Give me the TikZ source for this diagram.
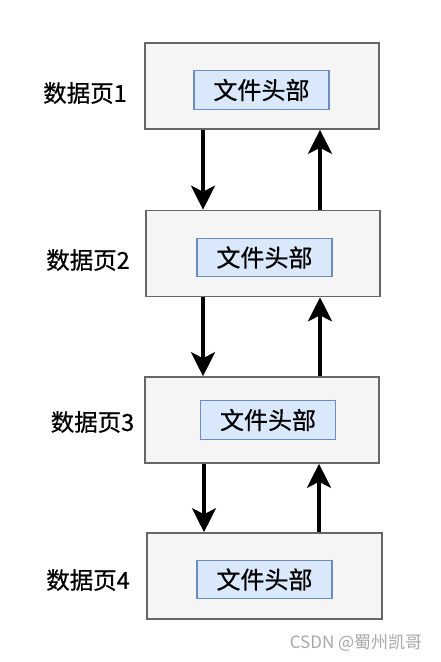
\documentclass[tikz,border=0pt]{standalone}
\usepackage{fontspec}
\setmainfont{Noto Sans CJK SC}[FakeBold=0.6]
\newfontfamily\wmfont{Noto Sans CJK SC}
\usetikzlibrary{arrows.meta}
\definecolor{outerfill}{HTML}{F5F5F5}
\definecolor{outerline}{HTML}{666666}
\definecolor{innerfill}{HTML}{DAE8FC}
\definecolor{innerline}{HTML}{6C8EBF}
\definecolor{wmark}{HTML}{A8A8A8}
\begin{document}
\begin{tikzpicture}[x=1pt,y=-1pt,
  pagebox/.style={draw=outerline,fill=outerfill,line width=1.6pt,minimum width=234pt,minimum height=86pt,inner sep=0pt},
  headbox/.style={draw=innerline,fill=innerfill,line width=1.3pt,minimum width=135pt,minimum height=38.5pt,inner sep=0pt,font=\fontsize{24}{24}\selectfont},
  pagelabel/.style={inner sep=0pt,font=\fontsize{23.5}{23.5}\selectfont},
  link/.style={line width=3.6pt,-{Stealth[length=24pt,width=24pt,inset=6pt]}}]
\useasboundingbox (0,0) rectangle (440,662);
\fill[white] (0,0) rectangle (440,662);
\node[pagebox] (b1) at (262,86) {};
\node[pagebox] (b2) at (263,253.5) {};
\node[pagebox] (b3) at (262,420) {};
\node[pagebox,minimum width=235pt] (b4) at (264.5,576) {};
\node[headbox] (h1) at (261.5,90) {文件头部};
\node[headbox] (h2) at (264.5,257.5) {文件头部};
\node[headbox] (h3) at (268,420) {文件头部};
\node[headbox] (h4) at (264.5,579.5) {文件头部};
\node[pagelabel] (l1) at (85,93) {数据页1};
\node[pagelabel] (l2) at (88,260) {数据页2};
\node[pagelabel] (l3) at (92.5,422) {数据页3};
\node[pagelabel] (l4) at (88,580) {数据页4};
\draw[link] (203,0 |- b1.south) -- (203,0 |- b2.north);
\draw[link] (320,0 |- b2.north) -- (320,0 |- b1.south);
\draw[link] (203,0 |- b2.south) -- (203,0 |- b3.north);
\draw[link] (320,0 |- b3.north) -- (320,0 |- b2.south);
\draw[link] (204,0 |- b3.south) -- (204,0 |- b4.north);
\draw[link] (319,0 |- b4.north) -- (319,0 |- b3.south);
\node[inner sep=0pt,text=wmark,font=\wmfont\fontsize{17}{17}\selectfont] (wm) at (356,643) {CSDN @蜀州凯哥};
\end{tikzpicture}
\end{document}
